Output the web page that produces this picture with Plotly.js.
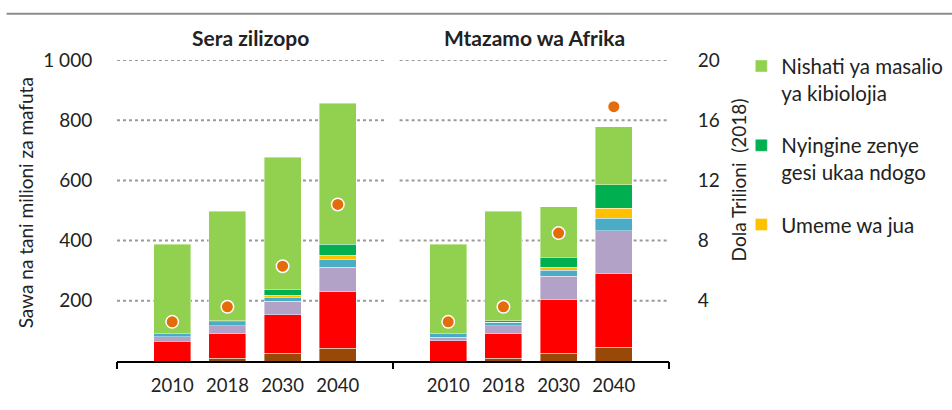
<!DOCTYPE html>
<html>
<head>
<meta charset="utf-8">
<script src="https://cdn.plot.ly/plotly-3.0.1.min.js"></script>
<style>html,body{margin:0;padding:0;background:#fff;}#chart{width:952px;height:410px;}</style>
</head>
<body>
<div id="chart"></div>
<script>
// ---- Data ----
const panels = ['Sera zilizopo', 'Mtazamo wa Afrika'];
const years = ['2010', '2018', '2030', '2040'];
// stacked segment sizes (left panel 4 years, then right panel 4 years), million tonnes of oil equivalent
const seriesBrown    = [0, 9, 25, 42,   0, 9, 25, 45];
const seriesRed      = [66, 81, 129, 188,   67, 82, 178, 245];
const seriesPurple   = [14, 27, 44, 82,   12, 26, 78, 142];
const seriesBlue     = [10, 13, 14, 26,   11, 11, 20, 43];
const seriesSolar    = [0, 0, 7, 14,   0, 0, 11, 32];
const seriesOtherLow = [0, 4, 17, 36,   0, 5, 33, 78];
const seriesBio      = [298, 363, 441, 468,   298, 364, 168, 194];
// GDP, trillion dollars (2018), right axis
const gdp = [2.6, 3.6, 6.3, 10.4,   2.6, 3.6, 8.5, 16.9];
const leftTicks = [200, 400, 600, 800, 1000];
const leftTickText = ['200', '400', '600', '800', '1\u00a0000'];
const rightTicks = [4, 8, 12, 16, 20];

// ---- positions: each panel has 4 slots, a gap slot between panels ----
const xs = [];
const xt = [];
panels.forEach((p, pi) => years.forEach((y, yi) => { xs.push(pi * 5 + yi + 1); xt.push(y); }));
const boundaries = [0, 5, 10];

const FONT = 'Lato, "Open Sans", sans-serif';
const TXT = '#222222';

function bar(name, vals, color, opts) {
  return Object.assign({
    type: 'bar', x: xs, y: vals, name: name, width: 0.67,
    marker: {color: color, line: {color: 'rgba(255,255,255,0.8)', width: 0.5}},
    showlegend: false, hoverinfo: 'skip'
  }, opts || {});
}

const traces = [
  bar('Mfululizo 1', seriesBrown, '#984807'),
  bar('Mfululizo 2', seriesRed, '#FF0000'),
  bar('Mfululizo 3', seriesPurple, '#B3A2C7'),
  bar('Mfululizo 4', seriesBlue, '#4BACC6'),
  bar('Umeme wa jua', seriesSolar, '#FFC000', {showlegend: true, legendgroup: 'g3', legendrank: 3}),
  bar('Nyingine zenye<br>gesi ukaa ndogo', seriesOtherLow, '#00B050', {showlegend: true, legendgroup: 'g2', legendrank: 2}),
  bar('Nishati ya masalio<br>ya kibiolojia', seriesBio, '#92D050', {showlegend: true, legendgroup: 'g1', legendrank: 1}),
  {
    type: 'scatter', mode: 'markers', x: xs, y: gdp, yaxis: 'y2', name: 'Pato',
    marker: {color: '#E46C0A', size: 12.5, line: {color: '#ffffff', width: 1.5}},
    showlegend: false, cliponaxis: false, hoverinfo: 'skip'
  },
  // invisible trace to carry the boundary tick marks axis
  {type: 'scatter', mode: 'markers', x: [0, 10], y: [0, 0], xaxis: 'x2', marker: {opacity: 0}, showlegend: false, hoverinfo: 'skip'}
];

// dotted gridlines (one segment per panel)
const shapes = [];
leftTicks.forEach(v => {
  shapes.push({type: 'line', xref: 'x', yref: 'y', x0: 0, x1: 4.88, y0: v, y1: v, line: {color: '#9a9a9a', width: 2, dash: 'dot'}, layer: 'below'});
  shapes.push({type: 'line', xref: 'x', yref: 'y', x0: 5.12, x1: 10, y0: v, y1: v, line: {color: '#9a9a9a', width: 2, dash: 'dot'}, layer: 'below'});
});
// top rule
shapes.push({type: 'line', xref: 'paper', yref: 'paper', x0: -0.2, x1: 1.52, y0: 1.154, y1: 1.154, line: {color: '#8c8c8c', width: 2}});

const annotations = [
  {text: '<b>' + panels[0] + '</b>', xref: 'x', yref: 'paper', x: 2.42, y: 1.075, xanchor: 'center', yanchor: 'middle', showarrow: false, font: {family: FONT, size: 21, color: TXT}},
  {text: '<b>' + panels[1] + '</b>', xref: 'x', yref: 'paper', x: 7.56, y: 1.075, xanchor: 'center', yanchor: 'middle', showarrow: false, font: {family: FONT, size: 21, color: TXT}},
  {text: 'Sawa na tani milioni za mafuta', xref: 'paper', yref: 'paper', x: -0.1667, y: 0.527, xanchor: 'center', yanchor: 'middle', textangle: -90, showarrow: false, font: {family: FONT, size: 19, color: TXT}},
  {text: 'Dola Trilioni\u00a0\u00a0(2018)', xref: 'paper', yref: 'paper', x: 1.125, y: 0.60, xanchor: 'center', yanchor: 'middle', textangle: -90, showarrow: false, font: {family: FONT, size: 19, color: TXT}}
];

const layout = {
  width: 952, height: 410,
  margin: {l: 117, r: 283, t: 59.5, b: 49, pad: 0, autoexpand: false},
  paper_bgcolor: '#ffffff', plot_bgcolor: '#ffffff',
  barmode: 'stack', bargap: 0,
  font: {family: FONT, size: 18, color: TXT},
  xaxis: {
    range: [0, 10], tickvals: xs, ticktext: xt, showgrid: false, zeroline: false,
    showline: true, linecolor: '#000000', linewidth: 1.5,
    ticks: 'outside', ticklen: 7, tickcolor: 'rgba(0,0,0,0)',
    tickfont: {family: FONT, size: 18.5, color: TXT}, fixedrange: true
  },
  xaxis2: {
    overlaying: 'x', anchor: 'y', side: 'bottom', range: [0, 10], tickvals: boundaries,
    showticklabels: false, ticks: 'outside', ticklen: 7, tickwidth: 1.5, tickcolor: '#000000',
    showgrid: false, zeroline: false, showline: false
  },
  yaxis: {
    range: [0, 1000], tickvals: leftTicks, ticktext: leftTickText, showgrid: false, zeroline: false,
    showline: false, ticks: 'outside', ticklen: 20, tickcolor: 'rgba(0,0,0,0)',
    tickfont: {family: FONT, size: 19, color: TXT}
  },
  yaxis2: {
    overlaying: 'y', side: 'right', range: [0, 20], tickvals: rightTicks, showgrid: false, zeroline: false,
    showline: false, ticks: 'outside', ticklen: 24, tickcolor: 'rgba(0,0,0,0)',
    tickfont: {family: FONT, size: 19, color: TXT}
  },
  legend: {
    x: 1.131, y: 1.046, xanchor: 'left', yanchor: 'top', valign: 'top',
    traceorder: 'grouped', tracegroupgap: 23,
    font: {family: FONT, size: 20.5, color: TXT}, bgcolor: 'rgba(0,0,0,0)'
  },
  shapes: shapes,
  annotations: annotations,
  showlegend: true,
  hovermode: false
};

Plotly.newPlot('chart', traces, layout, {staticPlot: true, displayModeBar: false});
</script>
</body>
</html>
